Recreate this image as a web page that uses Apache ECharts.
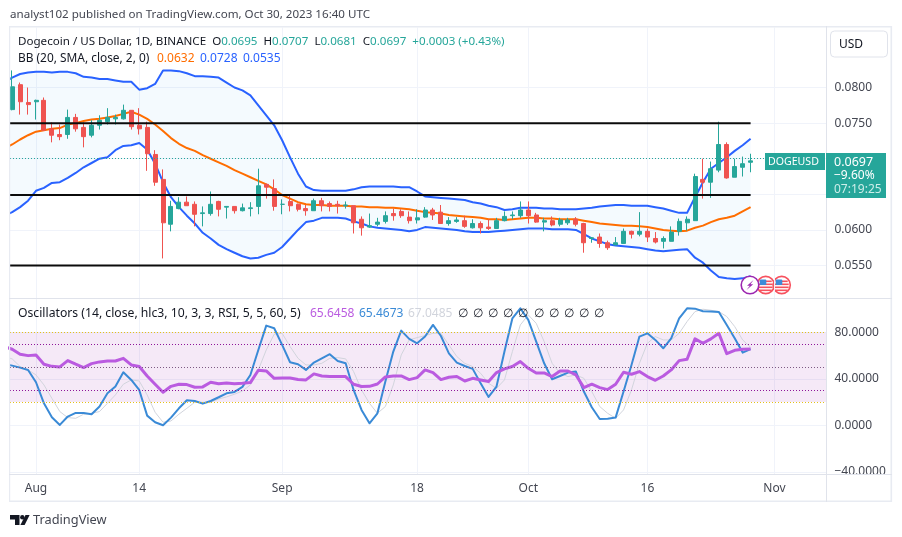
<!DOCTYPE html>
<html>
<head>
<meta charset="utf-8">
<title>DOGEUSD daily chart</title>
<style>html,body{margin:0;padding:0;background:#fff}#chart{width:902px;height:537px}</style>
<script src="https://cdn.jsdelivr.net/npm/echarts@6/dist/echarts.min.js"></script>
</head>
<body>
<div id="chart"></div>
<script>
// Daily candles, one entry per day from Jul 29 (day -3) to Oct 30 (day 90); day 0 is Aug 1.
const firstCandleDay = -3;
const openPrices = [
  .0769,.0804,.0779,.0780,.0782,.0742,.0734,.0734,.0758,.0744,
  .0733,.0747,.0752,.0756,.0756,.0768,.0747,.0744,.0706,.0671,
  .0608,.0630,.0639,.0636,.0623,.0623,.0640,.0632,.0633,.0627,
  .0630,.0633,.0664,.0658,.0636,.0640,.0636,.0630,.0627,.0641,
  .0637,.0636,.0634,.0634,.0615,.0604,.0608,.0612,.0623,.0626,
  .0618,.0614,.0618,.0628,.0625,.0609,.0612,.0613,.0603,.0609,
  .0604,.0602,.0613,.0620,.0620,.0628,.0621,.0611,.0613,.0608,
  .0610,.0615,.0609,.0588,.0590,.0582,.0579,.0581,.0598,.0594,
  .0598,.0588,.0584,.0584,.0598,.0610,.0613,.0671,.0667,.0684,
  .0720,.0674,.0688,.0695];
const closePrices = [
  .0801,.0780,.0776,.0782,.0740,.0733,.0731,.0758,.0742,.0731,
  .0747,.0754,.0758,.0758,.0768,.0745,.0742,.0707,.0667,.0610,
  .0633,.0639,.0634,.0622,.0624,.0636,.0629,.0633,.0627,.0631,
  .0631,.0662,.0660,.0633,.0636,.0634,.0629,.0627,.0641,.0634,
  .0633,.0634,.0635,.0610,.0603,.0606,.0611,.0620,.0620,.0620,
  .0613,.0617,.0628,.0621,.0609,.0613,.0614,.0605,.0609,.0603,
  .0602,.0613,.0619,.0621,.0628,.0620,.0611,.0613,.0607,.0614,
  .0614,.0608,.0582,.0589,.0581,.0575,.0582,.0598,.0594,.0598,
  .0590,.0583,.0588,.0597,.0612,.0615,.0675,.0667,.0686,.0720,
  .0673,.0689,.0693,.0697];
const highPrices = [
  .0824,.0807,.0800,.0783,.0786,.0751,.0748,.0769,.0763,.0751,
  .0754,.0761,.0771,.0762,.0776,.0768,.0771,.0752,.0712,.0685,
  .0641,.0646,.0647,.0640,.0633,.0654,.0641,.0633,.0633,.0637,
  .0639,.0686,.0665,.0671,.0643,.0648,.0637,.0635,.0644,.0645,
  .0640,.0641,.0640,.0634,.0619,.0623,.0617,.0626,.0630,.0629,
  .0626,.0629,.0632,.0631,.0635,.0618,.0618,.0620,.0615,.0612,
  .0615,.0617,.0626,.0626,.0640,.0640,.0624,.0617,.0619,.0617,
  .0617,.0618,.0610,.0590,.0595,.0585,.0590,.0602,.0599,.0625,
  .0602,.0597,.0591,.0605,.0616,.0619,.0679,.0700,.0696,.0752,
  .0723,.0700,.0703,.0707];
const lowPrices = [
  .0768,.0762,.0762,.0755,.0740,.0723,.0726,.0728,.0738,.0716,
  .0730,.0741,.0748,.0748,.0755,.0741,.0734,.0683,.0662,.0560,
  .0598,.0629,.0634,.0605,.0605,.0620,.0619,.0616,.0623,.0626,
  .0619,.0622,.0644,.0627,.0622,.0626,.0626,.0620,.0627,.0626,
  .0626,.0623,.0630,.0595,.0592,.0603,.0605,.0609,.0613,.0617,
  .0609,.0609,.0617,.0614,.0609,.0606,.0610,.0603,.0602,.0595,
  .0600,.0602,.0612,.0615,.0617,.0609,.0610,.0598,.0605,.0605,
  .0607,.0605,.0568,.0582,.0575,.0572,.0579,.0581,.0588,.0591,
  .0583,.0581,.0574,.0584,.0592,.0599,.0613,.0644,.0645,.0681,
  .0672,.0674,.0675,.0681];

// Indicator series begin one day earlier so they run off the left edge of the pane.
const firstIndicatorDay = -4;
const bollingerUpper = [
  .0807,.0814,.0819,.0821,.0822,.0822,.0821,.0822,.0822,.0820,
  .0815,.0814,.0812,.0812,.0810,.0808,.0808,.0797,.0799,.0805,
  .0824,.0824,.0823,.0820,.0816,.0816,.0815,.0814,.0807,.0800,
  .0796,.0789,.0775,.0761,.0747,.0726,.0702,.0679,.0661,.0656,
  .0655,.0655,.0655,.0655,.0657,.0660,.0661,.0661,.0661,.0661,
  .0660,.0660,.0654,.0647,.0646,.0645,.0644,.0643,.0642,.0639,
  .0637,.0634,.0632,.0628,.0629,.0631,.0631,.0631,.0630,.0630,
  .0629,.0629,.0629,.0630,.0631,.0633,.0634,.0635,.0635,.0634,
  .0634,.0634,.0632,.0630,.0627,.0624,.0624,.0646,.0667,.0686,
  .0694,.0702,.0711,.0719,.0728];
const bollingerMiddle = [
  .0714,.0720,.0727,.0733,.0738,.0740,.0742,.0743,.0748,.0750,
  .0753,.0755,.0756,.0758,.0760,.0763,.0766,.0762,.0756,.0748,
  .0739,.0729,.0721,.0715,.0711,.0705,.0700,.0695,.0690,.0684,
  .0679,.0674,.0669,.0664,.0657,.0649,.0644,.0639,.0636,.0635,
  .0635,.0634,.0634,.0634,.0633,.0633,.0632,.0632,.0631,.0631,
  .0630,.0629,.0627,.0625,.0624,.0623,.0621,.0620,.0619,.0618,
  .0617,.0615,.0615,.0614,.0615,.0616,.0617,.0617,.0616,.0616,
  .0615,.0615,.0615,.0613,.0611,.0609,.0608,.0607,.0606,.0606,
  .0605,.0604,.0602,.0600,.0599,.0598,.0599,.0603,.0606,.0611,
  .0615,.0617,.0620,.0626,.0632];
const bollingerLower = [
  .0620,.0625,.0632,.0641,.0655,.0659,.0666,.0667,.0673,.0680,
  .0688,.0694,.0700,.0702,.0712,.0718,.0719,.0722,.0713,.0693,
  .0667,.0646,.0632,.0620,.0609,.0596,.0588,.0579,.0573,.0568,
  .0563,.0560,.0561,.0565,.0568,.0576,.0588,.0600,.0611,.0613,
  .0617,.0617,.0617,.0616,.0612,.0609,.0605,.0603,.0602,.0601,
  .0600,.0598,.0600,.0604,.0603,.0602,.0601,.0600,.0598,.0597,
  .0597,.0597,.0598,.0599,.0600,.0601,.0602,.0602,.0602,.0601,
  .0601,.0601,.0600,.0594,.0588,.0584,.0580,.0578,.0577,.0576,
  .0575,.0573,.0571,.0570,.0571,.0572,.0573,.0561,.0554,.0543,
  .0534,.0532,.0531,.0532,.0535];
const rsiValues = [
  67.7,65.4,61.1,59.9,60.5,52.5,50.7,50.2,55.6,52.5,
  49.6,53.0,54.5,55.3,55.3,57.6,51.9,50.5,42.4,35.3,
  28.4,33.5,35.3,35.0,32.7,33.0,37.0,35.8,36.4,35.8,
  36.1,36.7,47.3,46.7,40.4,40.7,40.7,39.3,39.0,44.2,
  42.4,41.9,41.9,41.9,35.3,33.3,33.5,35.5,41.6,42.4,
  42.4,39.3,41.0,47.6,45.3,39.3,41.3,41.9,38.1,40.4,
  39.0,37.6,45.3,48.5,50.5,54.8,49.0,45.0,45.0,41.9,
  46.7,46.7,43.3,32.4,35.3,32.4,30.7,35.3,45.6,43.9,
  46.2,41.9,38.7,42.4,47.6,55.6,56.8,74.3,70.5,74.3,
  79.1,61.6,64.5,65.4,65.65];
const stochK = [
  52.5,51.3,49.6,47.6,37.0,18.9,6.9,0.3,7.5,10.6,
  10.6,9.5,16.1,27.5,33.3,45.6,39.0,30.4,8.3,2.6,
  0,6.6,14.6,21.5,20.9,18.6,20.9,24.1,27.5,28.7,
  33.0,43.3,64.8,85.7,83.4,69.1,54.2,52.5,47.6,53.9,
  57.6,61.1,55.3,53.3,30.4,13.2,1.7,10.3,37.6,63.4,
  81.4,74.3,70.5,76.3,86.3,76.8,61.9,53.9,51.0,48.5,
  36.1,24.4,33.3,63.4,92.0,100.6,90.6,72.0,53.3,39.6,
  42.4,45.3,46.2,29.0,15.5,5.4,5.7,6.6,29.0,51.9,
  76.3,79.1,73.4,66.2,74.8,92.0,100.6,100.3,98.1,97.8,
  97.5,86.3,74.8,62.5,65.47];
const stochD = [
  59.1,57.1,50.5,47.6,43.3,34.7,23.2,11.8,6.6,6.0,
  9.5,10.3,11.8,18.9,26.1,35.3,39.0,38.1,26.1,11.2,
  2.6,3.7,9.5,14.6,19.8,19.8,19.8,22.6,24.4,26.7,
  29.5,34.7,47.6,64.8,78.3,79.1,67.7,57.6,51.9,51.9,
  53.3,57.6,58.2,57.1,46.2,30.4,18.9,10.3,16.1,34.7,
  60.5,73.4,75.4,77.1,79.1,79.1,69.1,59.1,53.3,50.5,
  44.7,36.1,31.8,39.0,63.4,86.3,94.9,87.7,72.0,53.3,
  44.7,41.9,43.3,40.4,29.0,16.1,10.3,6.0,13.2,30.4,
  53.3,70.5,76.3,73.4,73.4,79.1,89.2,97.8,99.8,98.9,
  97.8,93.5,84.9,73.4,67.05];

// Axes, reference levels and legend readings.
const timeTickDays = [0, 13, 31, 48, 62, 77, 93];
const timeTickLabels = ['Aug', '14', 'Sep', '18', 'Oct', '16', 'Nov'];
const priceTicks = [0.055, 0.06, 0.065, 0.07, 0.075, 0.08];
const priceLabels = [0.055, 0.06, 0.065, 0.075, 0.08];
const oscillatorTicks = [-40, 0, 40, 80];
const horizontalLevels = [0.075, 0.0649, 0.055];
const lastClose = 0.0697;
const lastDay = 90;
const oscillatorZeroes = ['∅','∅','∅','∅','∅','∅','∅','∅','∅','∅'];

const FONT = '"Noto Sans", sans-serif';
const TEXT = '#131722', AXIS_TEXT = '#434651', UP = '#26a69a', DOWN = '#ef5350';
const GRID = '#f0f3fa', FRAME = '#e8ebf2';
const BLUE = '#2962ff', ORANGE = '#ff6d00', OSC_BLUE = '#3a8ad6', OSC_PURPLE = '#ba5be0', OSC_GREY = '#d1d4dc';
const LEGEND_SIZE = 11.6;

const indicatorDays = bollingerUpper.map((_, i) => firstIndicatorDay + i);
const pairs = values => values.map((v, i) => [indicatorDays[i], v]);
const candleRows = openPrices.map((o, i) => [firstCandleDay + i, o, closePrices[i], lowPrices[i], highPrices[i]]);
const bandRows = bollingerUpper.map((u, i) => [indicatorDays[i], u, bollingerLower[i]]);

const xMin = -3.2746, xMax = 99.56;

function xAxisFor(gridIndex, showLabels) {
  return {
    type: 'value', gridIndex, min: xMin, max: xMax,
    axisLine: { show: false },
    axisTick: { show: false, customValues: timeTickDays },
    splitLine: { show: true, customValues: timeTickDays, lineStyle: { color: GRID, width: 1 } },
    axisLabel: {
      show: showLabels, customValues: timeTickDays, margin: 9,
      color: AXIS_TEXT, fontSize: 12, fontFamily: FONT,
      formatter: v => timeTickLabels[timeTickDays.indexOf(v)] || ''
    }
  };
}

function bandRenderer(params, api) {
  if (params.dataIndex !== 0) return undefined;
  const top = bandRows.map(r => api.coord([r[0], r[1]]));
  const bottom = bandRows.map(r => api.coord([r[0], r[2]])).reverse();
  return { type: 'polygon', shape: { points: top.concat(bottom) }, style: { fill: 'rgba(33,150,243,0.05)' } };
}

function lineSeries(xi, yi, data, color, width, z) {
  return {
    type: 'line', xAxisIndex: xi, yAxisIndex: yi, data, showSymbol: false, silent: true,
    clip: true, z, lineStyle: { color, width, join: 'round' }, itemStyle: { color }, animation: false
  };
}

function dottedMark(value, color) {
  return { yAxis: value, lineStyle: { color, type: [1, 2], width: 1 } };
}

// Small round flag marker used in the event row.
function flagIcon(cx, cy) {
  const stripes = [[-5, 7], [-2, 8], [1, 8], [4, 7]];
  const children = [
    { type: 'circle', shape: { cx, cy, r: 8.6 }, style: { fill: '#fff', stroke: '#f7525f', lineWidth: 1.6 } },
    { type: 'circle', shape: { cx, cy, r: 6.4 }, style: { fill: '#fff' } }
  ];
  stripes.forEach(s => children.push({
    type: 'rect', shape: { x: cx - s[1] + 1, y: cy + s[0] + 0.5, width: 2 * s[1] - 2, height: 1.6 }, style: { fill: '#f7525f' }
  }));
  children.push({ type: 'rect', shape: { x: cx - 6, y: cy - 5.6, width: 6.6, height: 5.6, r: 1 }, style: { fill: '#3d8bd8' } });
  return { type: 'group', z: 120, children };
}

const textAt = (x, y, text, color, size, extra) => Object.assign({
  type: 'text', x, y, z: 110,
  style: Object.assign({ text, fill: color, font: `${size || 12}px ${FONT}`, verticalAlign: 'middle', align: 'left' }, extra || {})
});

const ohlcRich = {
  d: { fill: TEXT, color: TEXT, fontFamily: FONT, fontSize: LEGEND_SIZE },
  g: { fill: UP, color: UP, fontFamily: FONT, fontSize: LEGEND_SIZE }
};

const frameElements = [
  { type: 'rect', z: 105, shape: { x: 827, y: 475, width: 64, height: 26 }, style: { fill: '#fff' } },
  { type: 'rect', z: 106, shape: { x: 9, y: 26, width: 883, height: 1.6 }, style: { fill: FRAME } },
  { type: 'rect', z: 106, shape: { x: 9, y: 500.5, width: 883, height: 1.6 }, style: { fill: FRAME } },
  { type: 'rect', z: 106, shape: { x: 9, y: 26, width: 1.2, height: 476 }, style: { fill: FRAME } },
  { type: 'rect', z: 106, shape: { x: 890.5, y: 26, width: 1.6, height: 476 }, style: { fill: FRAME } },
  { type: 'rect', z: 106, shape: { x: 826, y: 26, width: 1, height: 476 }, style: { fill: '#e0e3eb' } },
  { type: 'rect', z: 106, shape: { x: 9, y: 298, width: 883, height: 1 }, style: { fill: '#e0e3eb' } },
  { type: 'rect', z: 106, shape: { x: 9, y: 474, width: 883, height: 1 }, style: { fill: '#e0e3eb' } },
  { type: 'rect', z: 107, shape: { x: 830.5, y: 31, width: 57, height: 26, r: 4 }, style: { fill: '#fff', stroke: '#e0e3eb', lineWidth: 1 } },

  textAt(839, 45, 'USD', TEXT, 12),

  // last price tags
  { type: 'rect', z: 108, shape: { x: 765, y: 153, width: 60, height: 17 }, style: { fill: UP } },
  { type: 'rect', z: 108, shape: { x: 826, y: 153, width: 60, height: 45 }, style: { fill: UP } },
  textAt(768, 162, 'DOGEUSD', '#fff', 10.6),
  textAt(834, 162, '0.0697', '#fff', 12.5),
  textAt(834, 176, '−9.60%', '#fff', 12),
  textAt(834, 190, '07:19:25', '#cdeee9', 12),

  // page header and pane legends
  textAt(10, 15, 'analyst102 published on TradingView.com, Oct 30, 2023 16:40 UTC', '#434651', LEGEND_SIZE),
  textAt(18, 42, '{d|Dogecoin / US Dollar, 1D, BINANCE}  {d|O}{g|0.0695}  {d|H}{g|0.0707}  {d|L}{g|0.0681}  {d|C}{g|0.0697}  {g|+0.0003 (+0.43%)}', TEXT, LEGEND_SIZE, { rich: ohlcRich }),
  textAt(18, 59, 'BB (20, SMA, close, 2, 0)', TEXT, 11.9),
  textAt(157, 59, '0.0632', ORANGE, 12),
  textAt(200, 59, '0.0728', BLUE, 12),
  textAt(243, 59, '0.0535', BLUE, 12),
  textAt(18, 314, 'Oscillators (14, close, hlc3, 10, 3, 3, RSI, 5, 5, 60, 5)', TEXT, 12.2),
  textAt(310, 314, '65.6458', OSC_PURPLE, 12),
  textAt(359, 314, '65.4673', OSC_BLUE, 12),
  textAt(408, 314, '67.0485', OSC_GREY, 12)
];
oscillatorZeroes.forEach((z, i) => frameElements.push(textAt(458 + i * 15.1, 314, z, TEXT, 12)));

// Event markers under the last candles.
frameElements.push(
  { type: 'circle', z: 119, shape: { cx: 750, cy: 285, r: 8.8 }, style: { fill: '#fff', stroke: '#9c27b0', lineWidth: 1.6 } },
  { type: 'polygon', z: 120, shape: { points: [[753.5, 280], [747, 285.8], [749.8, 285.8], [746.5, 290], [753.2, 284.2], [750.4, 284.2]] }, style: { fill: '#9c27b0' } },
  flagIcon(765.7, 285),
  flagIcon(781.7, 285)
);

// Wordmark in the footer.
frameElements.push(
  { type: 'polygon', z: 110, shape: { points: [[10, 515], [19.5, 515], [19.5, 525], [15, 525], [15, 519.5], [10, 519.5]] }, style: { fill: '#131722' } },
  { type: 'circle', z: 110, shape: { cx: 22.3, cy: 517.2, r: 2.2 }, style: { fill: '#131722' } },
  { type: 'polygon', z: 110, shape: { points: [[25.5, 515], [29.6, 515], [24.6, 525], [20.4, 525]] }, style: { fill: '#131722' } },
  textAt(33, 520, 'TradingView', '#434651', 12.8)
);

const chart = echarts.init(document.getElementById('chart'), null, { renderer: 'canvas', width: 902, height: 537 });
chart.setOption({
  animation: false,
  backgroundColor: '#fff',
  grid: [
    { left: 10, right: 75.5, top: 27.5, height: 271 },
    { left: 10, right: 75.5, top: 299, height: 175 }
  ],
  xAxis: [xAxisFor(0, false), xAxisFor(1, true)],
  yAxis: [
    {
      type: 'value', gridIndex: 0, position: 'right', min: 0.05037, max: 0.08843,
      axisLine: { show: false }, axisTick: { show: false, customValues: priceTicks },
      splitLine: { show: true, customValues: priceTicks, lineStyle: { color: GRID, width: 1 } },
      axisLabel: { customValues: priceLabels, margin: 8, padding: [4, 0, 0, 0], color: AXIS_TEXT, fontSize: 12, fontFamily: FONT, formatter: v => v.toFixed(4) }
    },
    {
      type: 'value', gridIndex: 1, position: 'right', min: -41.9, max: 108.6,
      axisLine: { show: false }, axisTick: { show: false, customValues: oscillatorTicks },
      splitLine: { show: true, customValues: oscillatorTicks, lineStyle: { color: GRID, width: 1 } },
      axisLabel: {
        customValues: oscillatorTicks, margin: 8, padding: [4, 0, 0, 0], color: AXIS_TEXT, fontSize: 12, fontFamily: FONT,
        formatter: v => v.toFixed(4).replace('-', '−')
      }
    }
  ],
  series: [
    {
      type: 'custom', xAxisIndex: 0, yAxisIndex: 0, data: bandRows, renderItem: bandRenderer,
      encode: { x: 0, y: [1, 2] }, clip: true, silent: true, z: 1
    },
    lineSeries(0, 0, pairs(bollingerUpper), BLUE, 2, 3),
    lineSeries(0, 0, pairs(bollingerLower), BLUE, 2, 3),
    lineSeries(0, 0, pairs(bollingerMiddle), ORANGE, 2, 3),
    {
      type: 'candlestick', xAxisIndex: 0, yAxisIndex: 0, data: candleRows, barWidth: 4.5, z: 4, silent: true,
      itemStyle: { color: UP, color0: DOWN, borderColor: UP, borderColor0: DOWN, borderWidth: 1 },
      markLine: {
        silent: true, symbol: 'none', label: { show: false }, animation: false,
        data: [{ yAxis: lastClose, lineStyle: { color: UP, type: [1, 2], width: 1 } }]
      }
    },
    ...horizontalLevels.map(v => lineSeries(0, 0, [[firstIndicatorDay, v], [lastDay, v]], '#0b0b0b', 2, 5)),
    {
      type: 'line', xAxisIndex: 1, yAxisIndex: 1, data: [], silent: true, z: 1,
      markArea: { silent: true, animation: false, itemStyle: { color: 'rgba(156,39,176,0.1)' }, data: [[{ yAxis: 80 }, { yAxis: 20 }]] },
      markLine: {
        silent: true, symbol: 'none', label: { show: false }, animation: false,
        data: [dottedMark(80, '#e3c21a'), dottedMark(20, '#e3c21a'), dottedMark(70, '#8e1599'), dottedMark(30, '#8e1599'), dottedMark(50, '#7d5a83')]
      }
    },
    lineSeries(1, 1, pairs(stochD), OSC_GREY, 1, 2),
    lineSeries(1, 1, pairs(stochK), OSC_BLUE, 2, 3),
    lineSeries(1, 1, pairs(rsiValues), OSC_PURPLE, 3, 4)
  ],
  graphic: { elements: frameElements }
});
</script>
</body>
</html>
